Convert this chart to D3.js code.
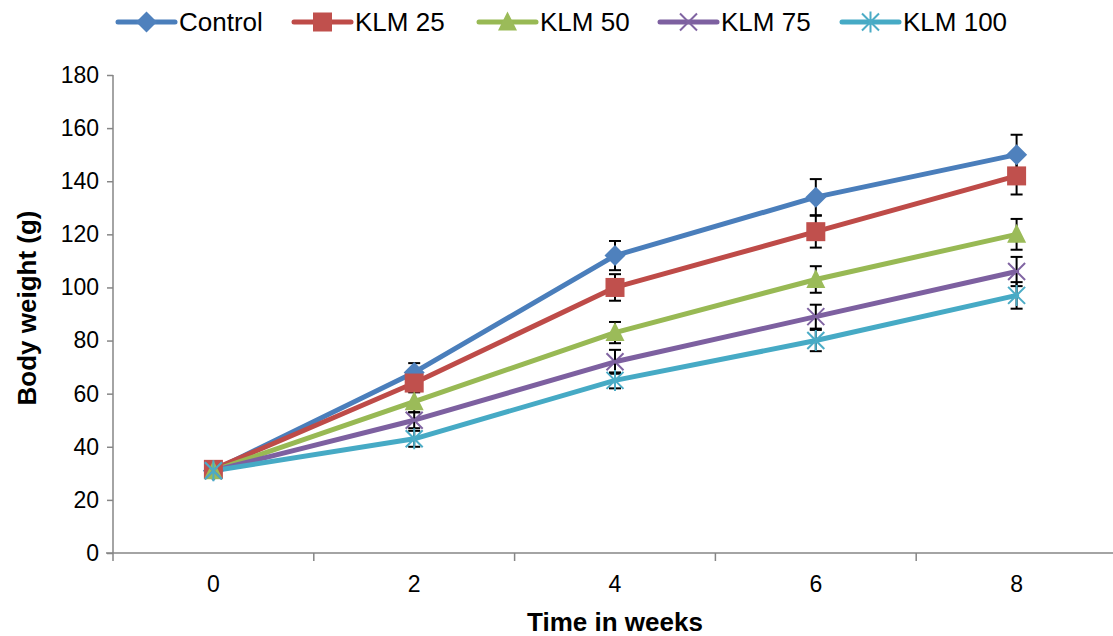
<!DOCTYPE html>
<html><head><meta charset="utf-8">
<script src="https://cdn.jsdelivr.net/npm/d3@7"></script>
<style>body{margin:0;background:#fff}svg{display:block}text{font-family:"Liberation Sans",Arial,sans-serif}</style>
</head><body>
<svg id="c" width="1113" height="636"></svg>
<script>
const weeks = ["0","2","4","6","8"];
const seriesNames = ["Control","KLM 25","KLM 50","KLM 75","KLM 100"];
const control = [31, 68, 112, 134, 150];
const klm25   = [31.5, 64, 100, 121, 142];
const klm50   = [31, 57, 83, 103, 120];
const klm75   = [31, 50, 72, 89, 106];
const klm100  = [31, 43, 65, 80, 97];
const errControl = [1, 3.5, 5.5, 6.8, 7.5];
const errKlm25   = [1, 3.5, 5, 6, 7];
const errKlm50   = [1, 4, 4, 5, 5.8];
const errKlm75   = [1, 3, 4.5, 4.5, 5.5];
const errKlm100  = [1, 3, 3, 4, 5];
const yTicks = [0,20,40,60,80,100,120,140,160,180];

const lineColors = ["#4A7EBB","#BE4B48","#98B954","#7D60A0","#46AAC5"];
const markColors = ["#4F81BD","#C0504D","#9BBB59","#8064A2","#4BACC6"];
const shapes = ["diamond","square","triangle","x","star"];

const values = [control, klm25, klm50, klm75, klm100];
const errs = [errControl, errKlm25, errKlm50, errKlm75, errKlm100];
const series = seriesNames.map((n,i)=>({name:n, vals:values[i], errs:errs[i], lc:lineColors[i], mc:markColors[i], shape:shapes[i]}));

const svg = d3.select("#c");
const x = d3.scaleBand().domain(weeks).range([113, 1117]);
const y = d3.scaleLinear().domain([0,180]).range([553, 75]);
const cx = d => x(d) + x.bandwidth()/2;

// y axis
const yAxis = d3.axisLeft(y).tickValues(yTicks).tickSize(6).tickPadding(8);
const gy = svg.append("g").attr("transform","translate(113,0)").call(yAxis);
gy.select(".domain").attr("stroke","#868686").attr("stroke-width",1.5).attr("d","M0,75V553");
gy.selectAll(".tick line").attr("stroke","#868686").attr("stroke-width",1.5);
gy.selectAll(".tick text").attr("font-size",23).attr("fill","#000");

// x axis
const gx = svg.append("g").attr("transform","translate(0,553)");
gx.append("line").attr("x1",106).attr("x2",1113).attr("y1",0).attr("y2",0).attr("stroke","#868686").attr("stroke-width",1.5);
const bounds = weeks.map(w=>x(w)).concat([x.range()[1]]);
gx.selectAll("line.tk").data(bounds).join("line").attr("class","tk")
  .attr("x1",d=>d).attr("x2",d=>d).attr("y1",0).attr("y2",8).attr("stroke","#868686").attr("stroke-width",1.5);
gx.selectAll("text").data(weeks).join("text").attr("x",d=>cx(d)).attr("y",39)
  .attr("text-anchor","middle").attr("font-size",23).text(d=>d);

// titles
svg.append("text").attr("x",615).attr("y",631).attr("text-anchor","middle").attr("font-size",26).attr("font-weight","bold").text("Time in weeks");
svg.append("text").attr("transform","translate(36,308) rotate(-90)").attr("text-anchor","middle").attr("font-size",26).attr("font-weight","bold").text("Body weight (g)");

function drawMarker(g, shape, px, py, color, s){
  if(shape==="diamond"){
    g.append("path").attr("d",`M${px},${py-s}L${px+s},${py}L${px},${py+s}L${px-s},${py}Z`).attr("fill",color);
  } else if(shape==="square"){
    g.append("rect").attr("x",px-s).attr("y",py-s).attr("width",2*s).attr("height",2*s).attr("fill",color);
  } else if(shape==="triangle"){
    g.append("path").attr("d",`M${px},${py-s-1}L${px+s},${py+s-1}L${px-s},${py+s-1}Z`).attr("fill",color);
  } else if(shape==="x"){
    g.append("path").attr("d",`M${px-s},${py-s}L${px+s},${py+s}M${px-s},${py+s}L${px+s},${py-s}`).attr("stroke",color).attr("stroke-width",2);
  } else {
    g.append("path").attr("d",`M${px-s},${py-s}L${px+s},${py+s}M${px-s},${py+s}L${px+s},${py-s}M${px},${py-s-2}L${px},${py+s+2}`).attr("stroke",color).attr("stroke-width",2);
  }
}
const msize = {diamond:10.5, square:9.5, triangle:9.5, x:8.5, star:8.5};

const line = d3.line().x((d,i)=>cx(weeks[i])).y(d=>y(d));
const plot = svg.append("g");
series.forEach(s=>{
  plot.append("path").datum(s.vals).attr("d",line).attr("fill","none").attr("stroke",s.lc).attr("stroke-width",5).attr("stroke-linejoin","round").attr("stroke-linecap","round");
});
series.forEach(s=>{
  const eg = plot.append("g").attr("stroke","#000").attr("stroke-width",2);
  s.vals.forEach((v,i)=>{
    const px = cx(weeks[i]);
    const y1 = y(v+s.errs[i]), y2 = y(v-s.errs[i]);
    eg.append("line").attr("x1",px).attr("x2",px).attr("y1",y1).attr("y2",y2);
    eg.append("line").attr("x1",px-6).attr("x2",px+6).attr("y1",y1).attr("y2",y1);
    eg.append("line").attr("x1",px-6).attr("x2",px+6).attr("y1",y2).attr("y2",y2);
  });
});
series.forEach(s=>{
  const mg = plot.append("g");
  s.vals.forEach((v,i)=>drawMarker(mg, s.shape, cx(weeks[i]), y(v), s.mc, msize[s.shape]));
});

// legend
const legX = [118, 294, 479, 660, 842];
const lg = svg.append("g");
series.forEach((s,i)=>{
  const x0 = legX[i], ly = 22;
  lg.append("line").attr("x1",x0).attr("x2",x0+57).attr("y1",ly).attr("y2",ly).attr("stroke",s.lc).attr("stroke-width",5).attr("stroke-linecap","round");
  drawMarker(lg, s.shape, x0+28.5, ly, s.mc, msize[s.shape]);
  lg.append("text").attr("x",x0+61).attr("y",ly+9).attr("font-size",26).text(s.name);
});
</script>
</body></html>
